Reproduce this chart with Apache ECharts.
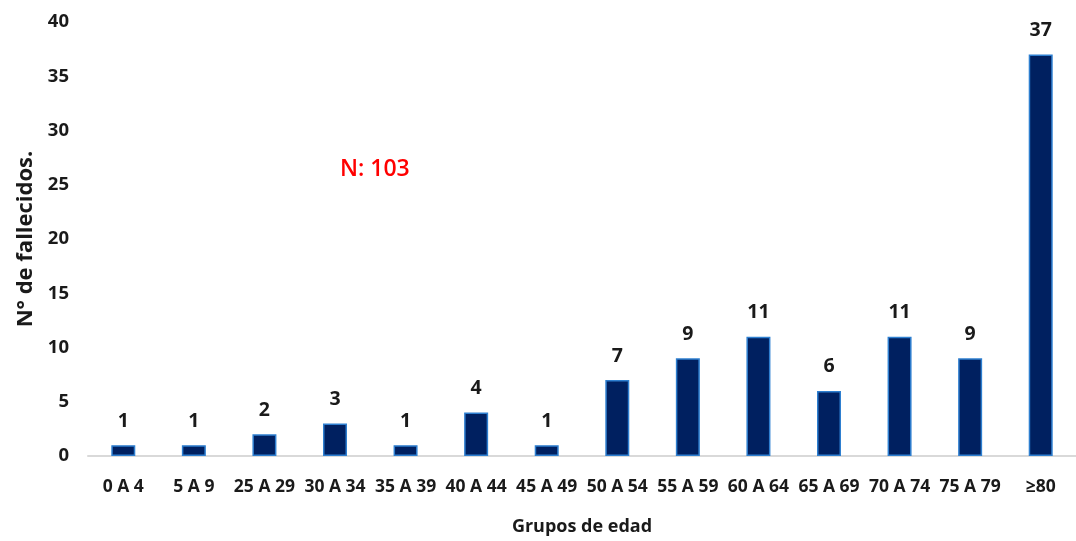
<!DOCTYPE html>
<html><head><meta charset="utf-8">
<script src="https://cdn.jsdelivr.net/npm/echarts@6/dist/echarts.min.js"></script>
<style>html,body{margin:0;padding:0;background:#fff}#c{width:1076px;height:541px}</style>
</head><body><div id="c"></div>
<script>
const categories = ['0 A 4','5 A 9','25 A 29','30 A 34','35 A 39','40 A 44','45 A 49','50 A 54','55 A 59','60 A 64','65 A 69','70 A 74','75 A 79','≥80'];
const deaths = [1,1,2,3,1,4,1,7,9,11,6,11,9,37];
const yTicks = {min:0, max:40, interval:5};
const font = '"Open Sans", "Noto Sans", sans-serif';
const chart = echarts.init(document.getElementById('c'), null, {renderer:'canvas'});
chart.setOption({
  animation:false,
  grid:{left:88, right:-12.5, top:22, bottom:81, containLabel:false},
  xAxis:{type:'category', data:categories,
    axisLine:{lineStyle:{color:'#d9d9d9', width:2}},
    axisTick:{show:false},
    axisLabel:{color:'#1a1a1a', fontFamily:font, fontWeight:'bold', fontSize:17.5, margin:22, interval:0},
    name:'Grupos de edad', nameLocation:'middle', nameGap:62,
    nameTextStyle:{color:'#1a1a1a', fontFamily:font, fontWeight:'bold', fontSize:18}
  },
  yAxis:{type:'value', min:yTicks.min, max:yTicks.max, interval:yTicks.interval,
    splitLine:{show:false}, axisLine:{show:false}, axisTick:{show:false},
    axisLabel:{color:'#1a1a1a', fontFamily:font, fontWeight:'bold', fontSize:18.5, margin:19},
    name:'N° de fallecidos.', nameLocation:'middle', nameGap:46, nameRotate:90,
    nameTextStyle:{color:'#1a1a1a', fontFamily:font, fontWeight:'bold', fontSize:22}
  },
  series:[{type:'bar', data:deaths, barWidth:24,
    itemStyle:{color:'#002060', borderColor:'#2e7fd0', borderWidth:1.5},
    label:{show:true, position:'top', distance:14, color:'#1a1a1a', fontFamily:font, fontWeight:'bold', fontSize:19.5}
  }],
  graphic:[{type:'text', left:340, top:158, style:{text:'N: 103', fill:'#ff0000', font:'600 23px "Open Sans", sans-serif'}}]
});
</script></body></html>
